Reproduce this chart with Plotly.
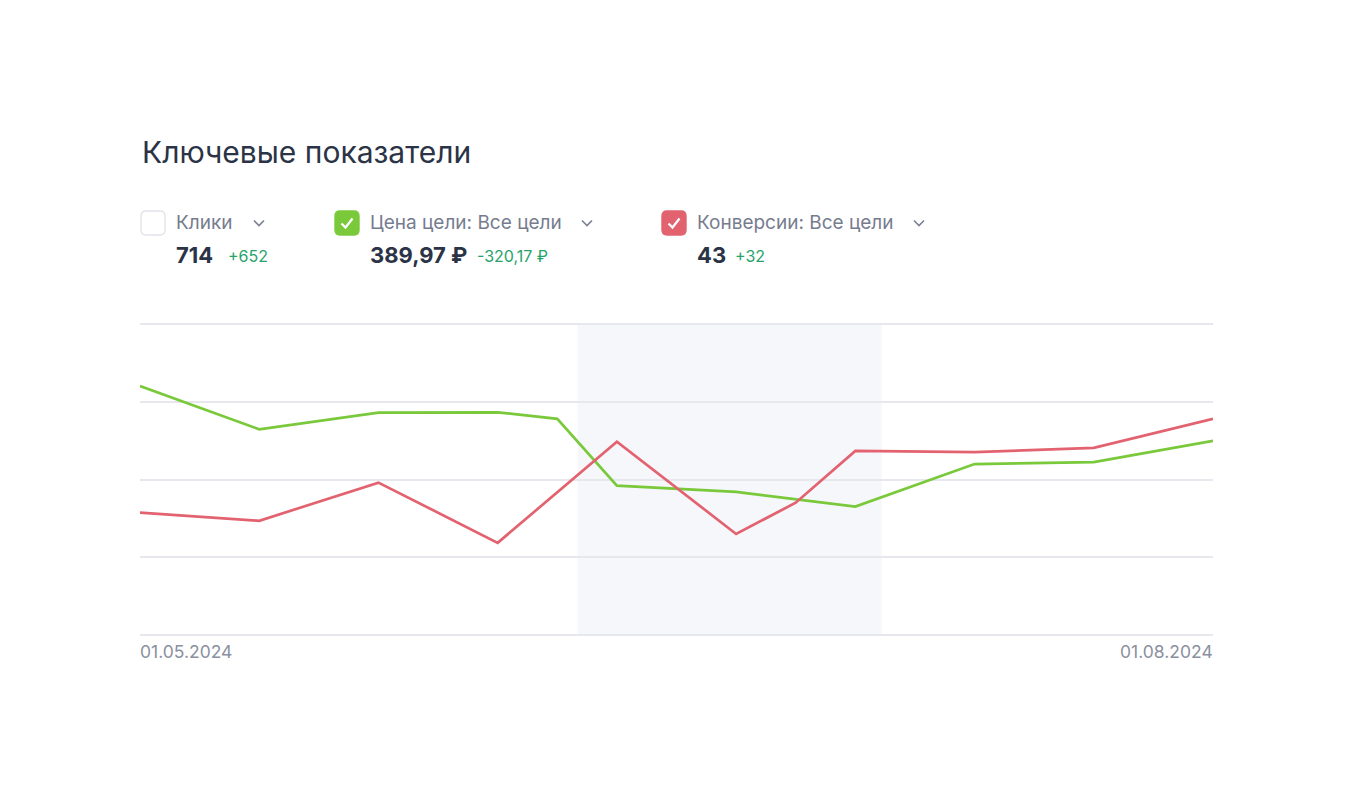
import plotly.graph_objects as go

# data
steps_cost = [0, 1, 2, 3, 3.5, 4, 5, 6, 7, 8, 9]
cost = [642, 530, 573, 574, 557, 384, 368, 330, 440, 445, 500]
steps_conv = [0, 1, 2, 3, 4, 5, 5.5, 6, 7, 8, 9]
conv = [3.14, 2.93, 3.92, 2.36, 4.98, 2.59, 3.40, 4.74, 4.71, 4.82, 5.57]
date_ticks = [0, 9]
date_labels = ['01.05.2024', '01.08.2024']
period = [3.67, 6.22]

metrics = ['Клики', 'Цена цели: Все цели', 'Конверсии: Все цели']
totals = ['714', '389,97 ₽', '43']
deltas = ['+652', '-320,17 ₽', '+32']

GREEN = '#79c93b'
RED = '#e2636f'
GRID = '#e6e8ed'
W, H = 1356, 801
OFF = 8  # page body margin
FW, FH = W - 2 * OFF, H - 2 * OFF
L, R, T, B = 140, 1213, 325, 634  # plot area in page pixels
FONT = 'Inter'


def px(x):
    return (x - L) / (R - L)


def py(y):
    return (B - y) / (B - T)


fig = go.Figure()
fig.add_trace(go.Scatter(x=steps_cost, y=cost, mode='lines', yaxis='y',
                         line=dict(color=GREEN, width=2.7), hoverinfo='skip'))
fig.add_trace(go.Scatter(x=steps_conv, y=conv, mode='lines', yaxis='y2',
                         line=dict(color=RED, width=2.7), hoverinfo='skip'))

# highlighted period
shapes = [dict(type='rect', xref='x', yref='paper', x0=period[0], x1=period[1], y0=0, y1=1,
               fillcolor='#f6f7fb', line_width=0, layer='below')]
annotations = []

# legend blocks
box_x = [141, 335, 662]
chev_x = [259, 587, 919]
box_fill = ['white', GREEN, RED]
for i, name in enumerate(metrics):
    x0, y0, x1, y1 = box_x[i], 211, box_x[i] + 24, 235
    r = 5
    path = (f'M {px(x0 + r)},{py(y0)} L {px(x1 - r)},{py(y0)} Q {px(x1)},{py(y0)} {px(x1)},{py(y0 + r)} '
            f'L {px(x1)},{py(y1 - r)} Q {px(x1)},{py(y1)} {px(x1 - r)},{py(y1)} '
            f'L {px(x0 + r)},{py(y1)} Q {px(x0)},{py(y1)} {px(x0)},{py(y1 - r)} '
            f'L {px(x0)},{py(y0 + r)} Q {px(x0)},{py(y0)} {px(x0 + r)},{py(y0)} Z')
    shapes.append(dict(type='path', xref='paper', yref='paper', path=path,
                       fillcolor=box_fill[i],
                       line=dict(color='#e1e4ea' if i == 0 else box_fill[i], width=1.4)))
    if i > 0:
        shapes.append(dict(type='path', xref='paper', yref='paper',
                           path=f'M {px(x0 + 6.5)},{py(223.5)} L {px(x0 + 10.5)},{py(227.5)} L {px(x0 + 17.5)},{py(218.5)}',
                           line=dict(color='white', width=2.3)))
    cx = chev_x[i]
    shapes.append(dict(type='path', xref='paper', yref='paper',
                       path=f'M {px(cx - 5)},{py(220.5)} L {px(cx)},{py(225.5)} L {px(cx + 5)},{py(220.5)}',
                       line=dict(color='#7b8193', width=1.6)))
    annotations.append(dict(xref='paper', yref='paper', x=px(box_x[i] + 35), y=py(223), xshift=-2,
                            text=name, showarrow=False, xanchor='left', yanchor='middle',
                            font=dict(family=FONT, size=19, color='#767c8e')))

val_x = [176, 370, 697]
delta_x = [229, 478, 736]
for i in range(3):
    annotations.append(dict(xref='paper', yref='paper', x=px(val_x[i]), y=py(255), xshift=-2,
                            text=f'<b>{totals[i]}</b>', showarrow=False, xanchor='left', yanchor='middle',
                            font=dict(family=FONT, size=22, color='#2b3346')))
    annotations.append(dict(xref='paper', yref='paper', x=px(delta_x[i]), y=py(256), xshift=-3,
                            text=deltas[i], showarrow=False, xanchor='left', yanchor='middle',
                            font=dict(family=FONT, size=16, color='#27a36a')))

# date labels at the ends of the axis
for v, lab, anchor in zip(date_ticks, date_labels, ['left', 'right']):
    annotations.append(dict(xref='x', yref='paper', x=v, y=0, yshift=-17, text=lab,
                            showarrow=False, xanchor=anchor, yanchor='middle', xshift=-2 if anchor == 'left' else 2,
                            font=dict(family=FONT, size=17.5, color='#8a90a0')))

fig.update_layout(
    width=FW, height=FH,
    margin=dict(l=L - OFF, r=FW - (R - OFF), t=T - OFF, b=FH - (B - OFF), pad=0),
    paper_bgcolor='white', plot_bgcolor='rgba(0,0,0,0)',
    showlegend=False,
    title=dict(text='Ключевые показатели', x=px(142), xref='paper', xanchor='left',
               y=1 - (152 - OFF) / FH, yanchor='middle',
               font=dict(family=FONT, size=30, color='#2b3346')),
    xaxis=dict(range=[0, 9], showgrid=False, zeroline=False, showticklabels=False,
               showline=True, mirror=True, linecolor=GRID, linewidth=1.5, fixedrange=True),
    yaxis=dict(range=[0, 800], dtick=200, showgrid=True, gridcolor=GRID, gridwidth=1.5,
               zeroline=False, showticklabels=False, showline=False, fixedrange=True),
    yaxis2=dict(range=[0, 8], overlaying='y', showgrid=False, zeroline=False,
                showticklabels=False, fixedrange=True),
    shapes=shapes,
    annotations=annotations,
)

fig.write_html('out.html', config={'displayModeBar': False})
